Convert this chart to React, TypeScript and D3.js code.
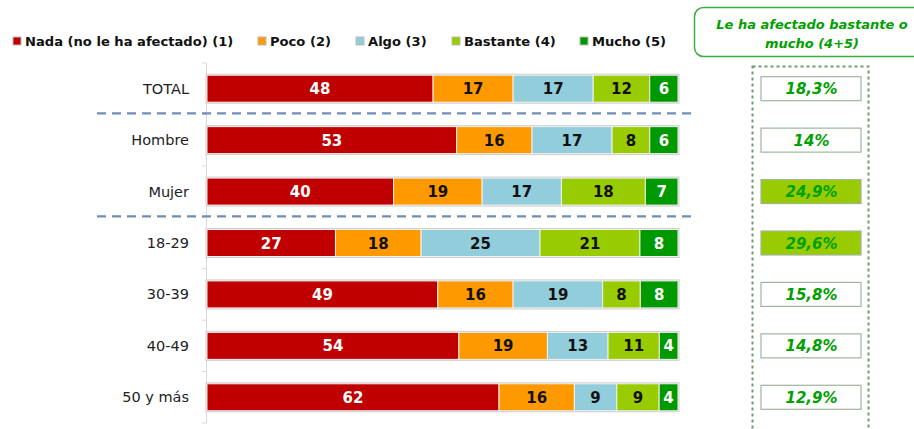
import React from "react";
import * as d3 from "d3";

const categories = ["TOTAL", "Hombre", "Mujer", "18-29", "30-39", "40-49", "50 y más"];
const seriesNames = ["Nada (no le ha afectado) (1)", "Poco (2)", "Algo (3)", "Bastante (4)", "Mucho (5)"];
const nada = [48, 53, 40, 27, 49, 54, 62];
const poco = [17, 16, 19, 18, 16, 19, 16];
const algo = [17, 17, 17, 25, 19, 13, 9];
const bastante = [12, 8, 18, 21, 8, 11, 9];
const mucho = [6, 6, 7, 8, 8, 4, 4];
const summaryLabels = ["18,3%", "14%", "24,9%", "29,6%", "15,8%", "14,8%", "12,9%"];
const summaryHighlighted = [false, false, true, true, false, false, false];
const separatorsAfter = ["TOTAL", "Mujer"];
const headerLines = ["Le ha afectado bastante o", "mucho (4+5)"];

const colors = ["#c00000", "#ff9900", "#92cddc", "#99cc00", "#009900"];
const textColors = ["#ffffff", "#111111", "#111111", "#111111", "#ffffff"];
const legendX = [13, 258, 356, 452, 580];
const FONT = "'DejaVu Sans', Verdana, sans-serif";

export default function App() {
  const W = 914, H = 429;
  const series = [nada, poco, algo, bastante, mucho];
  const rows = categories.map((c, i) => {
    const vals = series.map((s) => s[i]);
    const total = d3.sum(vals);
    let acc = 0;
    const segs = vals.map((v, k) => {
      const s = { k, v, x0: acc / total, x1: (acc + v) / total };
      acc += v;
      return s;
    });
    return { c, i, segs };
  });

  const y = d3.scaleBand<string>().domain(categories).range([63, 423]).paddingInner(0).paddingOuter(0);
  const x = d3.scaleLinear().domain([0, 1]).range([207, 678]);
  const barH = 27;
  const step = y.step();

  return (
    <div style={{ position: "fixed", left: 0, top: 0 }}>
      <svg width={W} height={H} style={{ display: "block", background: "#fff" }} fontFamily={FONT}>
        {/* legend */}
        {seriesNames.map((n, k) => (
          <g key={n}>
            <rect x={legendX[k]} y={37} width={8} height={8} fill={colors[k]} stroke="#bbbbbb" strokeWidth={1} />
            <text x={legendX[k] + 12} y={46} fontSize={13.1} fontWeight="bold" fill="#111">{n}</text>
          </g>
        ))}

        {/* axis line */}
        <line x1={206.5} x2={206.5} y1={63} y2={423} stroke="#d9d9d9" strokeWidth={1} />
        {d3.range(categories.length + 1).map((j) => (
          <line key={j} x1={202} x2={206.5} y1={63 + j * step} y2={63 + j * step} stroke="#d9d9d9" strokeWidth={1} />
        ))}

        {/* separators */}
        {separatorsAfter.map((c) => {
          const yy = (y(c) as number) + step - 1;
          return <line key={c} x1={97} x2={697} y1={yy} y2={yy} stroke="#6f8fb8" strokeWidth={2.2} strokeDasharray="9,6" />;
        })}

        {/* bars */}
        {rows.map((r) => {
          const cy = (y(r.c) as number) + step / 2;
          return (
            <g key={r.c}>
              <text x={189} y={cy + 5} textAnchor="end" fontSize={14.5} fill="#222">{r.c}</text>
              <rect x={x(0) - 1.5} y={cy - barH / 2 - 1.5} width={x(1) - x(0) + 3} height={barH + 3} fill="#cfcfcf" />
              {r.segs.map((s) => (
                <g key={s.k}>
                  <rect x={x(s.x0)} y={cy - barH / 2} width={x(s.x1) - x(s.x0)} height={barH} fill={colors[s.k]} stroke="#f2f2f2" strokeWidth={1} />
                  <text x={(x(s.x0) + x(s.x1)) / 2} y={cy + 5.5} textAnchor="middle" fontSize={15} fontWeight="bold" fill={textColors[s.k]}>{s.v}</text>
                </g>
              ))}
            </g>
          );
        })}

        {/* header box */}
        <rect x={694.5} y={7.5} width={240} height={49} rx={9} fill="#fff" stroke="#3fae3f" strokeWidth={1.5} />
        {headerLines.map((l, j) => (
          <text key={j} x={812} y={29 + j * 19} textAnchor="middle" fontSize={13} fontWeight="bold" fontStyle="italic" fill="#00a000">{l}</text>
        ))}

        {/* dashed box */}
        <rect x={752.5} y={66.5} width={116} height={380} fill="none" stroke="#6e9e6e" strokeWidth={2} strokeDasharray="3,3" />

        {/* summary boxes */}
        {categories.map((c, i) => {
          const cy = (y(c) as number) + step / 2;
          return (
            <g key={c}>
              <rect x={761} y={cy - 12} width={100} height={24} fill={summaryHighlighted[i] ? "#99cc00" : "#ffffff"} stroke="#9fb59f" strokeWidth={1.2} />
              <text x={811.5} y={cy + 5.5} textAnchor="middle" fontSize={15} fontWeight="bold" fontStyle="italic" fill="#00a000">{summaryLabels[i]}</text>
            </g>
          );
        })}
      </svg>
    </div>
  );
}
